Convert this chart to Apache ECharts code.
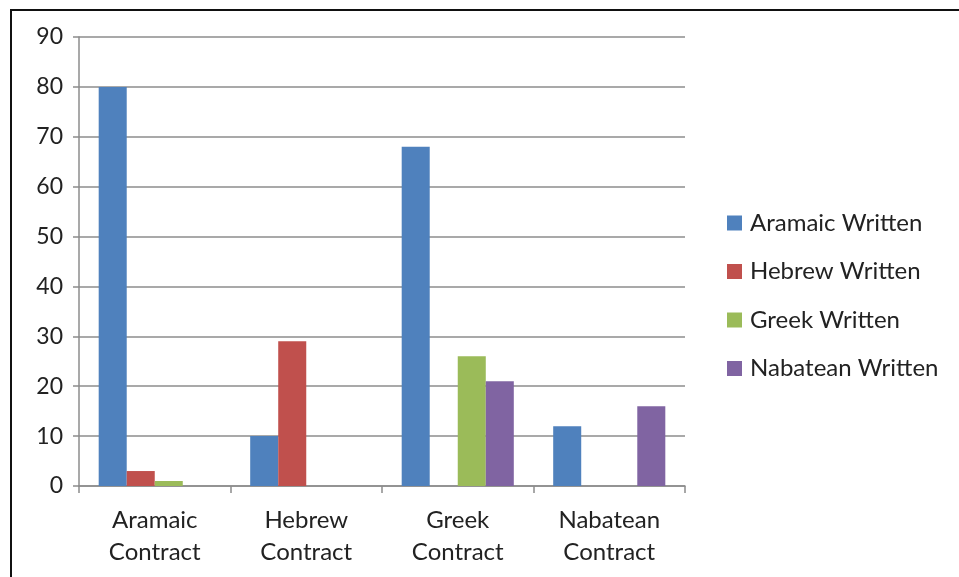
<!DOCTYPE html>
<html>
<head>
<meta charset="utf-8">
<script src="https://cdn.jsdelivr.net/npm/echarts@6/dist/echarts.min.js"></script>
<style>html,body{margin:0;padding:0;background:#fff;}#c{width:959px;height:577px;}</style>
</head>
<body>
<div id="c"></div>
<script>
const categories = ['Aramaic\nContract', 'Hebrew\nContract', 'Greek\nContract', 'Nabatean\nContract'];
const seriesNames = ['Aramaic Written', 'Hebrew Written', 'Greek Written', 'Nabatean Written'];
const aramaicWritten = [80, 10, 68, 12];
const hebrewWritten = [3, 29, 0, 0];
const greekWritten = [1, 0, 26, 0];
const nabateanWritten = [0, 0, 21, 16];
const colors = ['#4F81BD', '#C0504D', '#9BBB59', '#8064A2'];
const values = [aramaicWritten, hebrewWritten, greekWritten, nabateanWritten];

const chart = echarts.init(document.getElementById('c'), null, {renderer: 'canvas'});
const font = 'Lato, "Open Sans", sans-serif';
chart.setOption({
  animation: false,
  textStyle: {fontFamily: font},
  grid: {left: 79, right: 274, top: 37, bottom: 91},
  legend: {
    orient: 'vertical', left: 727, top: 211, padding: 0,
    itemWidth: 15, itemHeight: 15, itemGap: 24.5,
    icon: 'rect',
    textStyle: {fontSize: 24, color: '#222', fontFamily: font, lineHeight: 24, padding: [0,0,0,3]},
    data: seriesNames
  },
  xAxis: {
    type: 'category', data: categories,
    axisLine: {lineStyle: {color: '#8c8c8c', width: 1.5}},
    axisTick: {show: true, length: 7, lineStyle: {color: '#8c8c8c', width: 1.5}},
    axisLabel: {fontSize: 24, color: '#222', margin: 18, lineHeight: 32, fontFamily: font}
  },
  yAxis: {
    type: 'value', min: 0, max: 90, interval: 10,
    axisLine: {show: true, lineStyle: {color: '#8c8c8c', width: 1.5}},
    axisTick: {show: true, length: 6, lineStyle: {color: '#8c8c8c', width: 1.5}},
    splitLine: {lineStyle: {color: '#8c8c8c', width: 1.5}},
    axisLabel: {fontSize: 23, color: '#222', margin: 16, fontFamily: font}
  },
  series: seriesNames.map((n, i) => ({
    name: n, type: 'bar', data: values[i],
    barGap: '0%', barCategoryGap: '26%',
    itemStyle: {color: colors[i]}
  })),
  graphic: [{
    type: 'polyline', silent: true,
    shape: {points: [[11, 700], [11, 10], [1000, 10]]},
    style: {stroke: '#111', lineWidth: 2, fill: null}
  }]
});
</script>
</body>
</html>
